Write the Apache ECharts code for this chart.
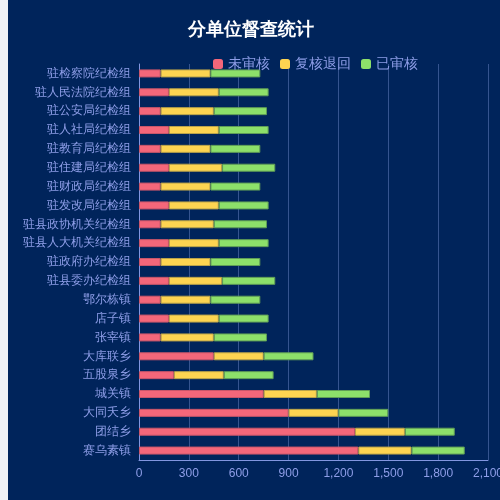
<!DOCTYPE html>
<html>
<head>
<meta charset="utf-8">
<script src="https://cdn.jsdelivr.net/npm/echarts@6/dist/echarts.min.js"></script>
<style>
	html, body { margin: 0; padding: 0; background: #f0f2f5; overflow: hidden; }
	#main { position: absolute; left: 8px; top: 0; width: 500px; height: 500px; background: #00245b; }
</style>
</head>
<body>
<div id="main"></div>
<script>
// 单位名称（自上而下）
var units = ['驻检察院纪检组', '驻人民法院纪检组', '驻公安局纪检组', '驻人社局纪检组', '驻教育局纪检组',
	'驻住建局纪检组', '驻财政局纪检组', '驻发改局纪检组', '驻县政协机关纪检组', '驻县人大机关纪检组',
	'驻政府办纪检组', '驻县委办纪检组', '鄂尔栋镇', '店子镇', '张宰镇', '大库联乡', '五股泉乡',
	'城关镇', '大同夭乡', '团结乡', '赛乌素镇'];
// 未审核
var unreviewed = [130, 180, 130, 180, 130, 180, 130, 180, 130, 180, 130, 180, 130, 180, 130, 450, 210, 750, 900, 1300, 1320];
// 复核退回
var returned = [300, 300, 320, 300, 300, 320, 300, 300, 320, 300, 300, 320, 300, 300, 320, 300, 300, 320, 300, 300, 320];
// 已审核
var reviewed = [300, 300, 320, 300, 300, 320, 300, 300, 320, 300, 300, 320, 300, 300, 320, 300, 300, 320, 300, 300, 320];
var xTicks = [0, 300, 600, 900, 1200, 1500, 1800, 2100];

var chart = echarts.init(document.getElementById('main'));
var labelColor = '#8e9ee8';

function barSeries(name, data, color, border) {
	return {
		name: name,
		type: 'bar',
		stack: 'total',
		barWidth: 8,
		data: data,
		itemStyle: {
			color: color,
			borderColor: border,
			borderWidth: 1
		}
	};
}

var option = {
	backgroundColor: '#00245b',
	title: {
		text: '分单位督查统计',
		left: 175,
		top: 16,
		textStyle: { color: '#ffffff', fontSize: 18, fontWeight: 'bold' }
	},
	legend: {
		left: 200,
		top: 52,
		itemWidth: 10,
		itemHeight: 10,
		itemGap: 10,
		icon: 'roundRect',
		itemStyle: { borderWidth: 0 },
		textStyle: { color: labelColor, fontSize: 14 },
		data: ['未审核', '复核退回', '已审核']
	},
	grid: { left: 131, right: 20, top: 64, bottom: 40 },
	xAxis: {
		type: 'value',
		min: xTicks[0],
		max: xTicks[xTicks.length - 1],
		interval: 300,
		axisLine: { show: true, lineStyle: { color: '#8296e0' } },
		axisTick: { show: false },
		axisLabel: { color: labelColor, fontSize: 12 },
		splitLine: { lineStyle: { color: '#35548f' } }
	},
	yAxis: {
		type: 'category',
		inverse: true,
		data: units,
		axisLine: { show: true, lineStyle: { color: '#8296e0' } },
		axisTick: { show: false },
		axisLabel: { color: labelColor, fontSize: 12 }
	},
	series: [
		barSeries('未审核', unreviewed, '#f4677a', '#c9566a'),
		barSeries('复核退回', returned, '#fdd451', '#b9a24a'),
		barSeries('已审核', reviewed, '#8de06a', '#5f9d57')
	]
};

chart.setOption(option);
</script>
</body>
</html>
